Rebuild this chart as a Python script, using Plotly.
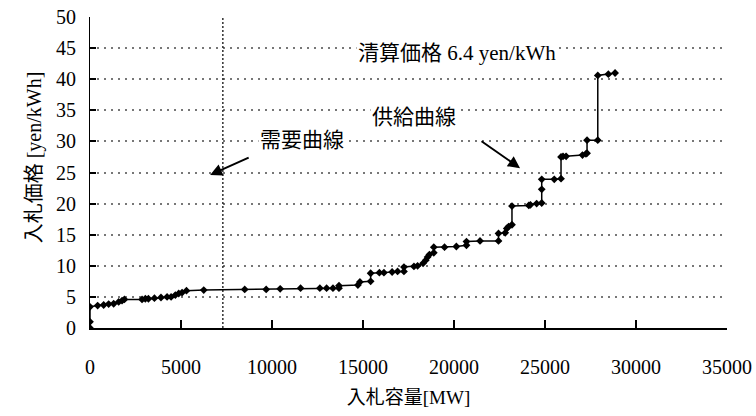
import plotly.graph_objects as go

# Supply curve (bid capacity MW, bid price yen/kWh)
supply_mw = [0, 0, 0, 420, 750, 1025, 1300, 1575, 1760, 1890, 2860, 3040, 3210, 3540, 3900,
             4235, 4455, 4690, 4875, 5060, 5300, 6250, 8500, 9680, 10450, 11570, 12630,
             13000, 13350, 13680, 13680, 14720, 14830, 15420, 15420, 15900, 16150, 16600,
             16900, 17250, 17250, 17800, 18000, 18300, 18450, 18550, 18650, 18890, 18890,
             19480, 20130, 20685, 20685, 21430, 22445, 22445, 22815, 22900, 23000, 23185,
             23185, 24110, 24200, 24540, 24820, 24820, 24820, 25510, 25880, 25880, 25990,
             26160, 27060, 27250, 27310, 27310, 27900, 27900, 28480, 28850]
supply_price = [0, 1.0, 3.4, 3.6, 3.7, 3.85, 3.9, 4.2, 4.4, 4.6, 4.6, 4.7, 4.7, 4.8, 4.9,
                5.0, 5.0, 5.3, 5.55, 5.7, 6.0, 6.1, 6.2, 6.2, 6.3, 6.4, 6.4,
                6.4, 6.4, 6.4, 6.8, 6.9, 7.4, 7.5, 8.8, 8.9, 8.9, 9.0,
                9.1, 9.1, 9.8, 9.9, 10.0, 10.4, 10.9, 11.4, 11.8, 12.1, 13.0,
                13.0, 13.1, 13.3, 13.9, 14.0, 14.0, 15.2, 15.3, 16.0, 16.3, 16.6,
                19.6, 19.7, 19.8, 20.0, 20.1, 22.3, 23.9, 23.9, 24.0, 27.5, 27.6,
                27.6, 27.8, 28.0, 28.1, 30.2, 30.2, 40.6, 40.8, 41.0]

# Demand curve (vertical, fixed capacity)
demand_mw = [7300, 7300]
demand_price = [0, 50]

x_ticks = [0, 5000, 10000, 15000, 20000, 25000, 30000, 35000]
y_ticks = [0, 5, 10, 15, 20, 25, 30, 35, 40, 45, 50]

FONT = "Liberation Serif, 'Noto Sans CJK JP', serif"
CJK = "'Noto Sans CJK JP', sans-serif"

fig = go.Figure()
fig.add_trace(go.Scatter(x=demand_mw, y=demand_price, mode="lines",
                         line=dict(color="#111", width=1.3, dash="2px,2px"),
                         hoverinfo="skip", showlegend=False))
fig.add_trace(go.Scatter(x=supply_mw, y=supply_price, mode="lines+markers",
                         line=dict(color="black", width=1.5),
                         marker=dict(symbol="diamond", size=6, color="black"),
                         showlegend=False))

fig.update_layout(
    width=756, height=416,
    margin=dict(l=90, r=29, t=17, b=88),
    paper_bgcolor="white", plot_bgcolor="white",
    font=dict(family=FONT, size=20, color="black"),
    xaxis=dict(range=[0, 35000], tickvals=x_ticks, ticktext=[str(v) for v in x_ticks],
               showgrid=False, zeroline=False, showline=True, linecolor="black",
               linewidth=1.5, ticks="inside", ticklen=8, tickwidth=2, tickcolor="black",
               ticklabelstandoff=20, automargin=False,
               title=dict(text="入札容量[MW]", standoff=14,
                          font=dict(size=19, family=FONT))),
    yaxis=dict(range=[0, 50], tickvals=y_ticks, ticktext=[str(v) for v in y_ticks],
               showgrid=True, gridcolor="#777", gridwidth=2, griddash="2px,5px",
               zeroline=False, showline=True, linecolor="black", linewidth=1,
               ticks="inside", ticklen=6, tickwidth=1.5, tickcolor="black",
               ticklabelstandoff=9, automargin=False),
)

# y-axis title (rotated)
fig.add_annotation(xref="paper", yref="paper", x=-0.107, y=0.55, showarrow=False,
                   textangle=-90, text="入札価格 [yen/kWh]",
                   font=dict(size=20, family=FONT))

fig.add_annotation(xref="x", yref="y", x=20180, y=44.5, showarrow=False, bgcolor="white",
                   text="<span style=\"font-family:'Noto Sans CJK JP'\">清算価格</span> 6.4 yen/kWh",
                   font=dict(size=21, family=FONT))
fig.add_annotation(xref="x", yref="y", x=17810, y=34.2, showarrow=False, bgcolor="white",
                   text="供給曲線", font=dict(size=21, family=CJK))
fig.add_annotation(xref="x", yref="y", x=11660, y=30.5, showarrow=False, bgcolor="white",
                   text="需要曲線", font=dict(size=21, family=CJK))
# arrows
fig.add_annotation(xref="x", yref="y", axref="x", ayref="y",
                   x=6600, y=24.6, ax=8800, ay=27.5, text="", showarrow=True,
                   arrowhead=2, arrowsize=1.2, arrowwidth=2, arrowcolor="black")
fig.add_annotation(xref="x", yref="y", axref="x", ayref="y",
                   x=23630, y=25.7, ax=21430, ay=30.2, text="", showarrow=True,
                   arrowhead=2, arrowsize=1.2, arrowwidth=2, arrowcolor="black")

fig.write_html("out.html", config={"displayModeBar": False},
               post_script="document.body.style.margin='0px';document.body.style.padding='0px';")
